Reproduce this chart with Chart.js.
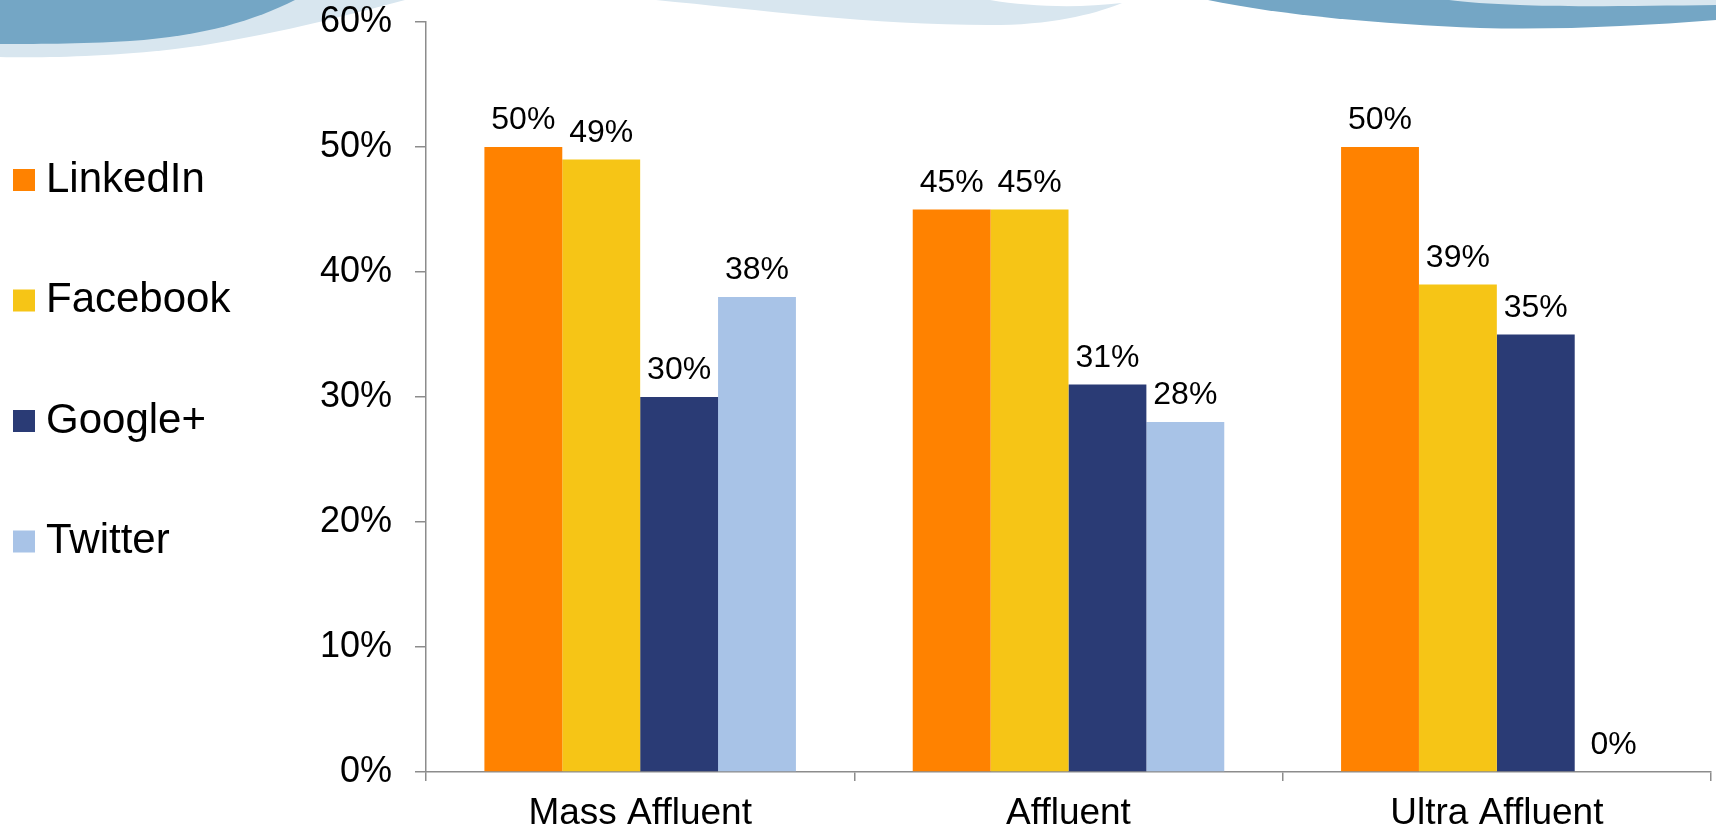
<!DOCTYPE html>
<html><head><meta charset="utf-8">
<script src="https://cdn.jsdelivr.net/npm/chart.js@4/dist/chart.umd.min.js"></script>
<style>html,body{margin:0;padding:0;background:#fff;overflow:hidden}#wrap{width:1716px;height:833px;position:relative}</style>
</head><body><div id="wrap"><canvas id="c" width="1716" height="833"></canvas></div>
<script>
const categories = ['Mass Affluent', 'Affluent', 'Ultra Affluent'];
const seriesNames = ['LinkedIn', 'Facebook', 'Google+', 'Twitter'];
const linkedin = [50, 45, 50];
const facebook = [49, 45, 39];
const googlePlus = [30, 31, 35];
const twitter = [38, 28, 0];
const yTicks = [0, 10, 20, 30, 40, 50, 60];
const seriesColors = ['#FF8200', '#F6C516', '#2A3B75', '#A8C3E7'];

const FONT = '"Liberation Sans", Arial, "Helvetica", sans-serif';

const wavePlugin = {
  id: 'waves',
  beforeDraw(chart) {
    const ctx = chart.ctx;
    ctx.save();
    ctx.fillStyle = '#fff';
    ctx.fillRect(0, 0, chart.width, chart.height);
    const light = '#D8E6EF', dark = '#74A6C5';
    ctx.fillStyle = light;
    ctx.beginPath();
    ctx.moveTo(0, 0); ctx.lineTo(405, 0);
    ctx.bezierCurveTo(330, 20, 250, 40, 175, 49);
    ctx.bezierCurveTo(105, 57, 40, 58, 0, 57);
    ctx.closePath(); ctx.fill();
    ctx.fillStyle = dark;
    ctx.beginPath();
    ctx.moveTo(0, 0); ctx.lineTo(295, 0);
    ctx.bezierCurveTo(255, 20, 205, 36, 130, 41);
    ctx.bezierCurveTo(80, 44, 30, 44, 0, 44);
    ctx.closePath(); ctx.fill();
    ctx.fillStyle = light;
    ctx.beginPath();
    ctx.moveTo(656, 0);
    ctx.bezierCurveTo(760, 10, 880, 26, 1000, 25);
    ctx.bezierCurveTo(1060, 24, 1100, 12, 1122, 3);
    ctx.bezierCurveTo(1080, 8, 1030, 7, 990, 0);
    ctx.closePath(); ctx.fill();
    ctx.fillStyle = dark;
    ctx.beginPath();
    ctx.moveTo(1208, 0); ctx.lineTo(1716, 0); ctx.lineTo(1716, 20);
    ctx.bezierCurveTo(1640, 26, 1560, 30, 1480, 28);
    ctx.bezierCurveTo(1380, 24, 1280, 15, 1208, 0);
    ctx.closePath(); ctx.fill();
    ctx.fillStyle = light;
    ctx.beginPath();
    ctx.moveTo(1449, 0); ctx.lineTo(1716, 0); ctx.lineTo(1716, 5);
    ctx.bezierCurveTo(1640, 6, 1560, 7, 1520, 5);
    ctx.bezierCurveTo(1490, 4, 1465, 2, 1449, 0);
    ctx.closePath(); ctx.fill();
    ctx.restore();
  }
};

const valueLabelPlugin = {
  id: 'valueLabels',
  afterDatasetsDraw(chart) {
    const ctx = chart.ctx;
    ctx.save();
    ctx.font = '32px ' + FONT;
    ctx.fillStyle = '#000';
    ctx.textAlign = 'center';
    ctx.textBaseline = 'alphabetic';
    chart.data.datasets.forEach((ds, di) => {
      const meta = chart.getDatasetMeta(di);
      meta.data.forEach((el, i) => {
        ctx.fillText(ds.data[i] + '%', el.x, el.y - 18);
      });
    });
    ctx.restore();
  }
};

const legendPlugin = {
  id: 'sideLegend',
  afterDraw(chart) {
    const ctx = chart.ctx;
    ctx.save();
    ctx.font = '42px ' + FONT;
    ctx.textAlign = 'left';
    ctx.textBaseline = 'middle';
    chart.data.datasets.forEach((ds, i) => {
      const top = 169 + i * 120.5;
      ctx.fillStyle = ds.backgroundColor;
      ctx.fillRect(13, top, 22, 22);
      ctx.fillStyle = '#000';
      ctx.fillText(ds.label, 46, top + 11);
    });
    ctx.restore();
  }
};

const seriesData = [linkedin, facebook, googlePlus, twitter];

new Chart(document.getElementById('c'), {
  type: 'bar',
  data: {
    labels: categories,
    datasets: seriesNames.map((name, i) => ({
      label: name,
      data: seriesData[i],
      backgroundColor: seriesColors[i],
      borderWidth: 0,
      categoryPercentage: 0.7273,
      barPercentage: 1.0
    }))
  },
  options: {
    responsive: false,
    animation: false,
    devicePixelRatio: 1,
    layout: { padding: { left: 0, right: 5, top: 22, bottom: 0 } },
    plugins: { legend: { display: false }, tooltip: { enabled: false } },
    scales: {
      x: {
        grid: { offset: true, drawOnChartArea: false, drawTicks: true, tickLength: 9, color: '#8C8C8C', lineWidth: 1.5 },
        border: { color: '#8C8C8C', width: 1.5 },
        ticks: { color: '#000', font: { size: 37, family: FONT }, padding: 11 },
        afterFit(s) { s.height = 61; s.paddingLeft = 0; s.paddingRight = 0; }
      },
      y: {
        min: 0, max: 60,
        afterBuildTicks(s) { s.ticks = yTicks.map(v => ({ value: v })); },
        grid: { drawOnChartArea: false, drawTicks: true, tickLength: 11, color: '#8C8C8C', lineWidth: 1.5 },
        border: { color: '#8C8C8C', width: 1.5 },
        ticks: { color: '#000', font: { size: 36, family: FONT }, padding: 23, callback: v => v + '%' },
        afterFit(s) { s.width = 426; s.paddingTop = 0; s.paddingBottom = 0; }
      }
    }
  },
  plugins: [wavePlugin, valueLabelPlugin, legendPlugin]
});
</script>
</body></html>
